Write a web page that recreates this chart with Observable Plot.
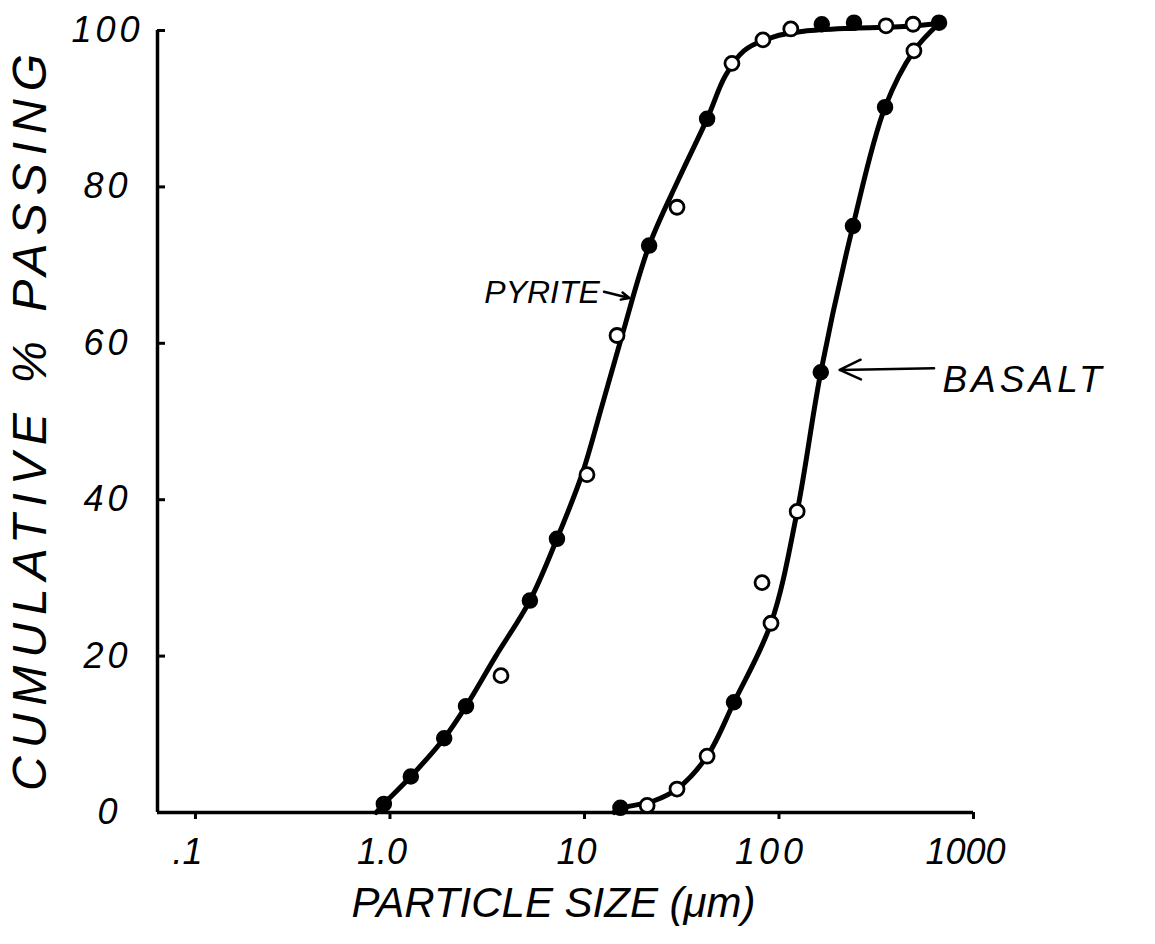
<!DOCTYPE html>
<html>
<head>
<meta charset="utf-8">
<script src="https://cdn.jsdelivr.net/npm/d3@7"></script>
<script src="https://cdn.jsdelivr.net/npm/@observablehq/plot@0.6"></script>
<style>
  html, body { margin: 0; padding: 0; background: #fff; }
  #chart svg { display: block; }
</style>
</head>
<body>
<div id="chart"></div>
<script>
// ---- axis ticks ----
const xTicks = [0.1, 1, 10, 100, 1000];
const xTickLabels = [".1", "1.0", "10", "100", "1000"];
const yTicks = [0, 20, 40, 60, 80, 100];
const yTickLabels = ["0", "20", "40", "60", "80", "100"];
const xMin = 0.0638;

// ---- PYRITE measured points (size µm, cumulative % passing, filled?) ----
const pyriteSize   = [0.93, 1.28, 1.90, 2.46, 3.72, 5.24, 7.22, 10.3, 14.7, 21.5, 29.9, 42.7, 57.3, 82.7, 115, 166, 243, 355, 489, 665];
const pyritePct    = [1.1, 4.6, 9.5, 13.6, 17.5, 27.1, 35.0, 43.2, 61.0, 72.5, 77.4, 88.7, 95.8, 98.8, 100.2, 100.8, 101.0, 100.6, 100.8, 101.0];
const pyriteFilled = [1, 1, 1, 1, 0, 1, 1, 0, 0, 1, 0, 1, 0, 0, 0, 1, 1, 0, 0, 1];

// ---- BASALT measured points ----
const basaltSize   = [15.3, 21.0, 29.9, 42.7, 58.7, 91.0, 81.8, 124, 164, 240, 351, 494];
const basaltPct    = [0.6, 0.9, 3.0, 7.2, 14.1, 24.2, 29.4, 38.5, 56.3, 75.0, 90.2, 97.4];
const basaltFilled = [1, 0, 0, 0, 1, 0, 0, 0, 1, 1, 1, 0];

// ---- hand-drawn fitted curves ----
const pyriteCurveSize = [0.85, 0.93, 1.28, 1.90, 2.46, 3.5, 5.24, 7.22, 9.7, 12.3, 15.6, 21.5, 30.5, 42.7, 53, 66, 94, 134, 243, 438, 665];
const pyriteCurvePct  = [0, 1.1, 4.6, 9.5, 13.6, 20.0, 27.1, 35.0, 43.2, 52.0, 61.0, 72.5, 81.0, 88.7, 94.2, 97.4, 99.2, 99.9, 100.3, 100.5, 100.9];
const basaltCurveSize = [14.2, 15.3, 22.8, 29.9, 42.7, 58.7, 91.0, 124, 164, 240, 351, 494, 665];
const basaltCurvePct  = [0, 0.5, 1.5, 3.0, 7.2, 14.1, 24.2, 38.5, 56.3, 75.0, 90.2, 97.4, 100.9];

// ---- annotations ----
const labelNames = ["PYRITE", "BASALT"];
const labelSize  = [12.0, 1818];
const labelPct   = [66.5, 55.3];
const arrowFromSize = [12.6, 627];
const arrowFromPct  = [66.6, 56.8];
const arrowToSize   = [17.0, 205];
const arrowToPct    = [65.8, 56.6];

const xTitle = "PARTICLE SIZE (μm)";
const yTitle = "CUMULATIVE % PASSING";

// build tables
const pts = (s, p, f) => s.map((d, i) => ({size: d, pct: p[i], filled: f[i] === 1}));
const curve = (s, p) => s.map((d, i) => ({size: d, pct: p[i]}));
const pyrite = pts(pyriteSize, pyritePct, pyriteFilled);
const basalt = pts(basaltSize, basaltPct, basaltFilled);
const allPts = pyrite.concat(basalt);
const curves = [curve(pyriteCurveSize, pyriteCurvePct), curve(basaltCurveSize, basaltCurvePct)];
const labels = labelNames.map((t, i) => ({t, size: labelSize[i], pct: labelPct[i]}));
const arrows = arrowFromSize.map((d, i) => ({x1: d, y1: arrowFromPct[i], x2: arrowToSize[i], y2: arrowToPct[i]}));

const font = "'Liberation Sans', 'DejaVu Sans', sans-serif";

const chart = Plot.plot({
  width: 1155,
  height: 944,
  marginLeft: 157,
  marginRight: 182,
  marginTop: 30,
  marginBottom: 132,
  style: {fontFamily: font, color: "#000", background: "#fff", overflow: "visible"},
  x: {type: "log", domain: [xMin, 1000], axis: null},
  y: {domain: [0, 100], axis: null},
  marks: [
    // axis frame lines
    Plot.ruleY([0], {x1: xMin, x2: 1000, strokeWidth: 3.5, stroke: "#000"}),
    Plot.ruleX([xMin], {y1: 0, y2: 100, strokeWidth: 3.5, stroke: "#000"}),
    // x ticks (downward)
    Plot.axisX({ticks: xTicks, tickSize: 7, fill: "none", strokeWidth: 3, stroke: "#000"}),
    // y ticks (inward)
    Plot.axisY({ticks: yTicks, tickSize: -8, fill: "none", strokeWidth: 3, stroke: "#000"}),
    // tick labels
    Plot.text(xTicks, {x: d => d, y: 0, text: (d, i) => xTickLabels[i], dy: 40, dx: -8,
      fontSize: 36, fontStyle: "italic", fill: "#000"}),
    Plot.text(yTicks, {x: xMin, y: d => d, text: (d, i) => yTickLabels[i], dx: -50,
      fontSize: 36, fontStyle: "italic", fill: "#000"}),
    // axis titles
    Plot.text([xTitle], {frameAnchor: "bottom", text: d => d, dy: 104, dx: -12,
      fontSize: 42, fontStyle: "italic", fill: "#000"}),
    Plot.text([yTitle], {frameAnchor: "left", textAnchor: "middle", text: d => d, rotate: -90, dx: -127, dy: -3,
      fontSize: 48, fontStyle: "italic", fill: "#000"}),
    // curves
    ...curves.map(c => Plot.line(c, {x: "size", y: "pct", curve: "catmull-rom",
      stroke: "#000", strokeWidth: 5, strokeLinecap: "round", strokeLinejoin: "round"})),
    // data points
    Plot.dot(allPts.filter(d => d.filled), {x: "size", y: "pct", r: 7.5, fill: "#000", stroke: "#000"}),
    Plot.dot(allPts.filter(d => !d.filled), {x: "size", y: "pct", r: 7, fill: "#fff", stroke: "#000", strokeWidth: 2.8}),
    // annotations
    Plot.text(labels.slice(0, 1), {x: "size", y: "pct", text: "t", textAnchor: "end", fontSize: 32, fontStyle: "italic", fill: "#000"}),
    Plot.text(labels.slice(1), {x: "size", y: "pct", text: "t", fontSize: 37, fontStyle: "italic", fill: "#000"}),
    Plot.arrow(arrows, {x1: "x1", y1: "y1", x2: "x2", y2: "y2", stroke: "#000", strokeWidth: 2.5,
      headLength: 14, headAngle: 50})
  ]
});

document.getElementById("chart").appendChild(chart);
const spacing = {
  [yTitle]: "8px",
  "BASALT": "4px",
  "100": "4px", "80": "4px", "60": "4px", "40": "4px", "20": "4px"
};
d3.select(chart).selectAll("text").each(function() {
  const s = spacing[this.textContent];
  if (s && !this.closest('g[aria-label]')?.getAttribute("aria-label")?.includes("x-axis")) {
    d3.select(this).style("letter-spacing", s);
  }
});
</script>
</body>
</html>
